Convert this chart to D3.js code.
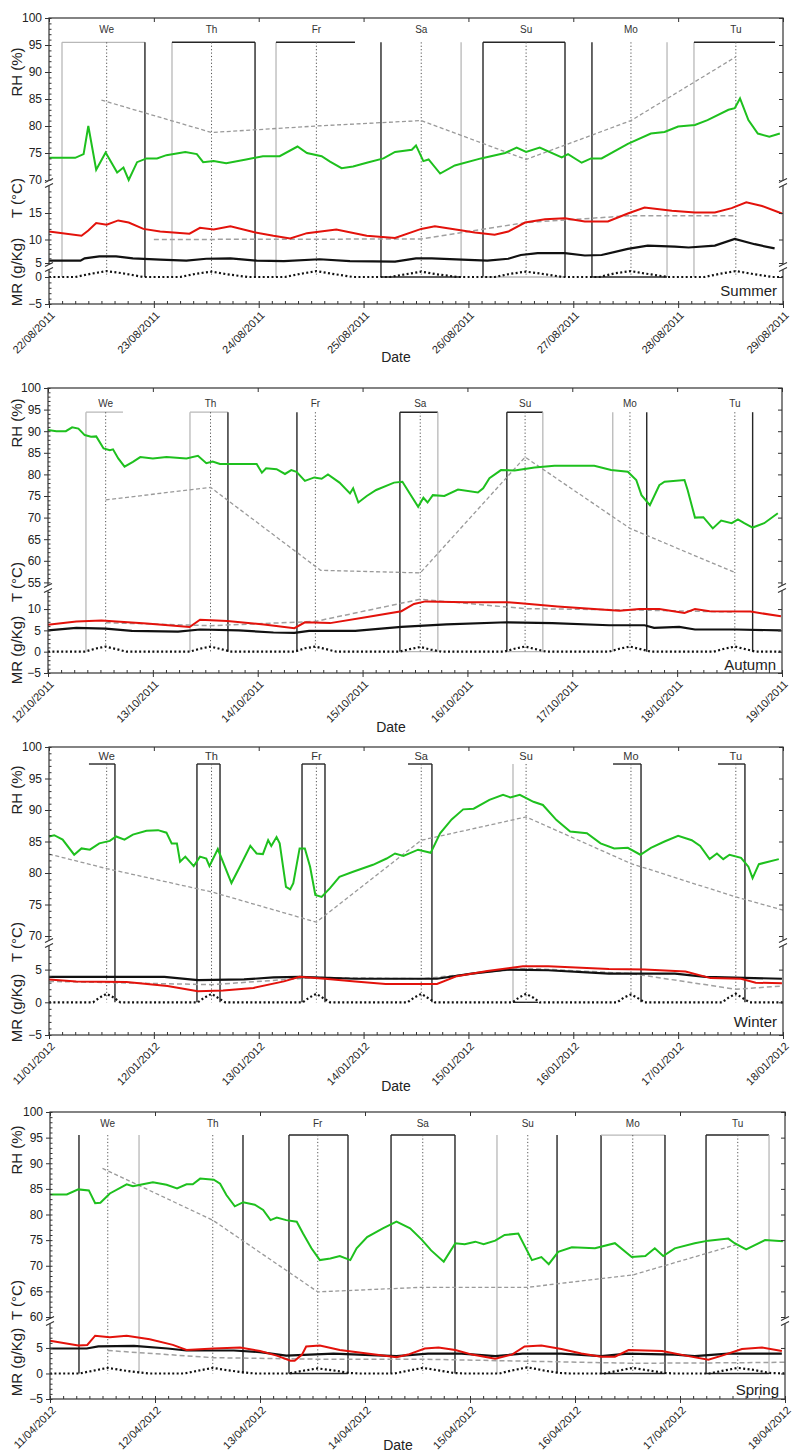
<!DOCTYPE html>
<html><head><meta charset="utf-8">
<script src="https://cdn.jsdelivr.net/npm/d3@7"></script>
<style>body{margin:0;background:#fff}svg{display:block;font-family:"Liberation Sans",Arial,sans-serif}</style>
</head><body><svg id="c" width="795" height="1453"></svg>
<script>
// ---------------- DATA ----------------
const dayLabels = ["We","Th","Fr","Sa","Su","Mo","Tu"];
const noonDays = [0.55,1.55,2.55,3.55,4.55,5.55,6.55];
const summerDates = ["22/08/2011","23/08/2011","24/08/2011","25/08/2011","26/08/2011","27/08/2011","28/08/2011","29/08/2011"];
const autumnDates = ["12/10/2011","13/10/2011","14/10/2011","15/10/2011","16/10/2011","17/10/2011","18/10/2011","19/10/2011"];
const winterDates = ["11/01/2012","12/01/2012","13/01/2012","14/01/2012","15/01/2012","16/01/2012","17/01/2012","18/01/2012"];
const springDates = ["11/04/2012","12/04/2012","13/04/2012","14/04/2012","15/04/2012","16/04/2012","17/04/2012","18/04/2012"];

// [day offset, value]
const summerRH = [[0,74.1],[0.25,74.1],[0.33,74.8],[0.375,80],[0.45,71.9],[0.54,75.1],[0.65,71.4],[0.71,72.3],[0.76,70],[0.84,73.3],[0.93,74],[1.03,74],[1.12,74.6],[1.3,75.2],[1.41,74.8],[1.47,73.3],[1.57,73.5],[1.69,73.1],[1.88,73.8],[2.04,74.4],[2.2,74.4],[2.37,76.2],[2.46,75],[2.6,74.4],[2.68,73.4],[2.79,72.2],[2.9,72.5],[3.03,73.2],[3.19,74],[3.3,75.2],[3.46,75.6],[3.5,76.4],[3.57,73.5],[3.62,73.8],[3.73,71.2],[3.87,72.7],[4.12,74],[4.35,75],[4.46,76],[4.55,75.2],[4.68,76],[4.89,74.2],[4.95,74.8],[5.08,73.2],[5.17,74],[5.27,74],[5.52,76.7],[5.74,78.6],[5.87,78.9],[6.0,79.9],[6.16,80.2],[6.28,81.1],[6.48,83],[6.54,83.3],[6.59,85.1],[6.67,81.1],[6.76,78.6],[6.87,78],[6.97,78.6]];
const summerT = [[0,11.5],[0.31,10.7],[0.375,11.7],[0.45,13.1],[0.55,12.8],[0.66,13.6],[0.76,13.2],[0.9,12],[1.06,11.5],[1.34,11.1],[1.44,12.2],[1.57,11.9],[1.73,12.5],[1.95,11.4],[2.14,10.7],[2.3,10.2],[2.46,11.2],[2.74,11.9],[3.03,10.7],[3.3,10.3],[3.55,12],[3.68,12.5],[3.94,11.7],[4.06,11.3],[4.25,10.9],[4.38,11.5],[4.54,13.2],[4.73,13.8],[4.92,14],[5.11,13.4],[5.33,13.4],[5.52,14.9],[5.68,16],[5.94,15.4],[6.16,15.1],[6.35,15.1],[6.51,15.9],[6.65,17],[6.8,16.3],[6.99,14.9]];
const summerMR = [[0,5.5],[0.3,5.5],[0.34,6],[0.48,6.4],[0.64,6.4],[0.8,6],[1.06,5.7],[1.31,5.5],[1.5,5.9],[1.73,6],[1.98,5.5],[2.24,5.4],[2.58,5.8],[2.87,5.4],[3.3,5.3],[3.5,6],[3.65,6],[3.94,5.7],[4.18,5.5],[4.38,5.9],[4.5,6.7],[4.66,7.1],[4.92,7.1],[5.11,6.6],[5.27,6.7],[5.52,8],[5.71,8.7],[5.97,8.5],[6.1,8.3],[6.35,8.7],[6.54,10.1],[6.73,9],[6.92,8.1]];
const summerSun = [[0,0],[0.25,0],[0.4,0.6],[0.55,1.1],[0.7,0.7],[0.9,0],[1.25,0],[1.4,0.6],[1.55,1.0],[1.7,0.5],[1.9,0],[2.25,0],[2.4,0.6],[2.55,1.1],[2.7,0.6],[2.9,0],[3.25,0],[3.4,0.5],[3.55,1.0],[3.7,0.5],[3.9,0],[4.25,0],[4.4,0.6],[4.55,1.0],[4.7,0.6],[4.9,0],[5.25,0],[5.4,0.7],[5.55,1.1],[5.7,0.6],[5.9,0],[6.25,0],[6.4,0.6],[6.55,1.1],[6.7,0.6],[6.9,0],[7,0]];
const summerRHDaily = [[0.5,84.8],[1.55,78.8],[2.55,80],[3.55,81],[4.55,73.8],[5.55,81],[6.55,92.8]];
const summerTDaily = [[1.0,10],[3.55,10.1],[4.55,13.2],[5.55,14.5],[6.55,14.5]];
const summerBoxes = [[0.124,0.915],[1.173,1.965],[2.165,2.918],[3.166,3.93],[4.139,4.921],[5.178,5.894],[6.151,6.924]];
const summerBoxEdges = ["ggk-","gkk-","gk--","k-gk","kkkg","k-gk","gk--"];

const autumnRH = [[0,90.3],[0.08,90],[0.17,90],[0.23,90.9],[0.29,90.6],[0.35,89.1],[0.41,88.7],[0.46,88.8],[0.53,86],[0.59,85.6],[0.62,85.8],[0.67,83.7],[0.73,81.8],[0.81,82.9],[0.88,84],[1.0,83.7],[1.13,84],[1.32,83.7],[1.43,84.3],[1.51,82.6],[1.57,83],[1.64,82.4],[1.76,82.4],[1.99,82.4],[2.04,80.4],[2.08,81.4],[2.18,81.2],[2.26,80.1],[2.32,81],[2.37,80.6],[2.45,78.5],[2.54,79.3],[2.61,79],[2.67,80],[2.78,78.1],[2.88,75.6],[2.91,76.8],[2.96,73.5],[3.04,75],[3.13,76.4],[3.3,78.1],[3.38,78.3],[3.45,75.6],[3.53,72.5],[3.58,74.6],[3.62,73.5],[3.67,75.2],[3.78,75],[3.91,76.5],[4.1,75.8],[4.15,76.8],[4.21,79.1],[4.32,81],[4.45,80.9],[4.64,81.6],[4.83,82],[5.21,82],[5.37,81],[5.53,80.6],[5.61,78.7],[5.66,75.2],[5.74,72.9],[5.83,77.5],[5.88,78.3],[6.07,78.7],[6.1,76.4],[6.17,70],[6.25,70.1],[6.34,67.5],[6.42,69.3],[6.52,68.7],[6.58,69.6],[6.64,68.7],[6.72,67.7],[6.83,68.7],[6.96,71]];
const autumnT = [[0,6.3],[0.27,7.1],[0.51,7.3],[0.94,6.6],[1.35,5.8],[1.45,7.5],[1.71,7.2],[2.06,6.4],[2.35,5.5],[2.45,6.9],[2.69,6.7],[3.03,8.1],[3.37,9.5],[3.49,11.2],[3.6,11.8],[3.99,11.6],[4.38,11.6],[4.48,11.4],[4.86,10.6],[5.45,9.6],[5.64,10],[5.83,10],[6.07,9.1],[6.17,10],[6.31,9.5],[6.7,9.4],[6.99,8.3]];
const autumnMR = [[0,5],[0.27,5.6],[0.55,5.4],[0.8,4.9],[1.24,4.7],[1.45,5.2],[1.82,5],[2.15,4.5],[2.35,4.4],[2.49,4.9],[2.93,4.9],[3.37,5.8],[3.8,6.4],[4.38,6.9],[4.81,6.7],[5.35,6.2],[5.69,6.2],[5.78,5.6],[6.02,5.8],[6.17,5.2],[6.56,5.2],[6.99,5]];
const autumnSun = [[0,0],[0.35,0],[0.45,0.7],[0.55,1.2],[0.65,0.6],[0.75,0],[1.35,0],[1.45,0.7],[1.55,1.2],[1.65,0.6],[1.75,0],[2.35,0],[2.45,0.8],[2.55,1.2],[2.65,0.6],[2.75,0],[3.35,0],[3.45,0.6],[3.55,1.1],[3.65,0.5],[3.75,0],[4.35,0],[4.45,0.7],[4.55,1.2],[4.65,0.6],[4.75,0],[5.35,0],[5.45,0.7],[5.55,1.2],[5.65,0.6],[5.75,0],[6.35,0],[6.45,0.7],[6.55,1.2],[6.65,0.6],[6.75,0],[7,0]];
const autumnRHDaily = [[0.55,74.1],[1.55,77],[2.6,57.8],[3.55,57.2],[4.55,84],[5.55,67.5],[6.55,57.3]];
const autumnTDaily = [[0.55,6.8],[1.55,6.1],[2.55,7.1],[3.55,12.3],[4.55,10.1],[5.55,9.8],[6.55,9.3]];
const autumnBoxes = [[0.362,0.715],[1.354,1.716],[2.374,2.7],[3.356,3.718],[4.376,4.719],[5.386,5.71],[6.4,6.72]];
const autumnBoxEdges = ["gg--","ggk-","k---","kkgg","kkgg","g-k-","--k-"];

const winterRH = [[0,85.8],[0.05,86],[0.13,85.3],[0.24,82.9],[0.31,83.9],[0.39,83.7],[0.48,84.7],[0.58,85.1],[0.64,85.8],[0.72,85.3],[0.8,86.1],[0.93,86.7],[1.04,86.8],[1.12,86.4],[1.17,84.7],[1.22,84.7],[1.25,81.8],[1.3,82.6],[1.38,81.1],[1.44,82.6],[1.5,82.3],[1.53,81.1],[1.61,83.8],[1.74,78.4],[1.82,81],[1.92,84.3],[1.98,83.1],[2.04,83],[2.09,85.2],[2.12,84.3],[2.17,85.7],[2.2,84.7],[2.26,77.8],[2.3,77.4],[2.33,78.4],[2.39,83.9],[2.44,83.9],[2.49,81],[2.54,76.5],[2.6,76.2],[2.68,77.6],[2.77,79.4],[2.9,80.2],[3.09,81.3],[3.22,82.3],[3.3,83.1],[3.38,82.7],[3.52,83.7],[3.64,83.2],[3.73,86.3],[3.84,88.5],[3.95,90.1],[4.05,90.2],[4.2,91.6],[4.33,92.4],[4.4,92],[4.49,92.4],[4.62,91.3],[4.71,90.8],[4.84,88.4],[4.97,86.6],[5.13,86.3],[5.26,84.7],[5.39,83.9],[5.52,84],[5.64,82.9],[5.74,84],[5.87,85],[6.0,85.9],[6.13,85.2],[6.21,84.3],[6.3,82.2],[6.37,83.1],[6.43,82.2],[6.49,82.9],[6.6,82.4],[6.67,81],[6.71,79.2],[6.77,81.4],[6.96,82.2]];
const winterT = [[0,3.5],[0.26,3.2],[0.74,3.1],[1.13,2.5],[1.42,1.7],[1.66,1.8],[1.95,2.2],[2.24,3.2],[2.39,3.9],[2.63,3.6],[2.92,3.2],[3.21,2.8],[3.7,2.8],[3.89,4],[4.18,4.8],[4.52,5.5],[4.76,5.5],[5.34,5.1],[5.68,5],[6.07,4.7],[6.31,3.7],[6.6,3.6],[6.74,3],[6.99,2.9]];
const winterMR = [[0,3.9],[1.1,3.9],[1.42,3.4],[1.86,3.5],[2.14,3.8],[2.39,3.9],[2.92,3.6],[3.7,3.6],[4.03,4.4],[4.37,5],[4.76,4.9],[5.34,4.4],[5.97,4.4],[6.26,3.9],[6.99,3.6]];
const winterSun = [[0,0],[0.42,0],[0.48,0.7],[0.55,1.3],[0.62,0.7],[0.68,0],[1.42,0],[1.48,0.7],[1.55,1.3],[1.62,0.6],[1.68,0],[2.42,0],[2.48,0.7],[2.55,1.3],[2.62,0.6],[2.68,0],[3.42,0],[3.48,0.7],[3.55,1.3],[3.62,0.6],[3.68,0],[4.42,0],[4.48,0.7],[4.55,1.3],[4.62,0.7],[4.68,0],[5.42,0],[5.48,0.7],[5.55,1.2],[5.62,0.6],[5.68,0],[6.42,0],[6.48,0.7],[6.55,1.3],[6.62,0.6],[6.68,0],[7,0]];
const winterRHDaily = [[0,83],[0.55,80.7],[1.55,77],[2.55,72.2],[3.55,85.2],[4.55,88.9],[5.55,81.5],[6.55,76.2],[7,74.1]];
const winterTDaily = [[0,3.2],[1.55,2.7],[2.55,3.8],[3.55,3.6],[4.55,5.2],[5.55,4.4],[6.55,2],[7,2.5]];
const winterBoxes = [[0.381,0.629],[1.411,1.631],[2.413,2.632],[3.424,3.652],[4.425,4.663],[5.379,5.646],[6.38,6.637]];
const winterBoxEdges = ["-kk-","kkk-","kkk-","-kk-","g--k","-kk-","-kk-"];

const springRH = [[0,83.9],[0.16,83.9],[0.27,84.9],[0.37,84.7],[0.43,82.2],[0.48,82.3],[0.57,84.1],[0.73,85.9],[0.79,85.5],[0.86,85.8],[0.98,86.3],[1.11,85.8],[1.21,85.1],[1.3,85.9],[1.36,85.9],[1.43,87],[1.56,86.8],[1.62,86],[1.68,83.8],[1.76,81.6],[1.84,82.4],[1.95,81.9],[2.03,80.9],[2.1,78.9],[2.16,79.4],[2.25,78.9],[2.35,78.6],[2.41,76.3],[2.49,73.4],[2.57,71.1],[2.67,71.4],[2.76,71.9],[2.86,71.1],[2.92,73.4],[3.02,75.6],[3.17,77.3],[3.3,78.6],[3.43,77.3],[3.54,75.1],[3.63,73],[3.75,70.8],[3.86,74.4],[3.95,74.2],[4.05,74.7],[4.13,74.2],[4.24,74.9],[4.33,76],[4.46,76.3],[4.59,71.1],[4.68,71.7],[4.75,70.3],[4.84,72.7],[4.97,73.6],[5.19,73.4],[5.38,74.4],[5.54,71.7],[5.67,71.9],[5.76,73.4],[5.84,71.9],[5.95,73.4],[6.14,74.4],[6.27,74.9],[6.46,75.3],[6.52,74.4],[6.63,73.2],[6.81,75],[6.98,74.8]];
const springT = [[0,6.4],[0.27,5.5],[0.355,5.6],[0.43,7.4],[0.57,7.1],[0.73,7.4],[0.95,6.7],[1.17,5.6],[1.3,4.6],[1.56,4.9],[1.81,5.1],[2.0,4.4],[2.16,3.5],[2.29,2.5],[2.33,2.5],[2.4,3.7],[2.44,5.3],[2.57,5.5],[2.76,4.6],[3.02,3.9],[3.3,3.2],[3.41,3.7],[3.57,4.9],[3.7,5.1],[3.86,4.6],[4.02,3.7],[4.24,2.9],[4.4,3.7],[4.52,5.3],[4.68,5.5],[4.87,4.8],[5.06,3.9],[5.25,3.3],[5.38,3.3],[5.51,4.6],[5.67,4.5],[5.83,4.4],[6.08,3.4],[6.27,2.7],[6.4,3.5],[6.59,4.8],[6.78,5.1],[6.97,4.4]];
const springMR = [[0,4.9],[0.35,4.9],[0.46,5.3],[0.8,5.4],[1.12,4.9],[1.3,4.5],[1.75,4.5],[2.0,4.2],[2.25,3.5],[2.7,3.9],[3.3,3.4],[3.6,3.9],[3.92,3.9],[4.24,3.4],[4.5,3.9],[4.87,3.9],[5.25,3.4],[5.5,3.9],[5.95,3.7],[6.14,3.4],[6.46,3.9],[6.97,3.9]];
const springSun = [[0,0],[0.28,0],[0.4,0.5],[0.55,1.1],[0.7,0.6],[0.85,0.2],[0.95,0],[1.28,0],[1.4,0.5],[1.55,1.1],[1.7,0.6],[1.85,0.2],[1.95,0],[2.28,0],[2.4,0.5],[2.55,1.0],[2.7,0.6],[2.85,0.1],[2.95,0],[3.28,0],[3.4,0.5],[3.55,1.1],[3.7,0.6],[3.85,0.1],[3.95,0],[4.28,0],[4.4,0.6],[4.55,1.2],[4.7,0.6],[4.85,0.1],[4.95,0],[5.28,0],[5.4,0.5],[5.55,1.1],[5.7,0.6],[5.85,0.1],[5.95,0],[6.28,0],[6.4,0.5],[6.55,1.1],[6.7,0.7],[6.85,0.1],[7,0]];
const springRHDaily = [[0.5,89],[1.55,78.9],[2.55,64.9],[3.55,65.8],[4.55,65.8],[5.55,68.2],[6.55,74.2]];
const springTDaily = [[0.55,4.5],[1.55,3.1],[2.55,2.8],[3.55,2.8],[4.55,2.4],[5.55,2.0],[6.55,2.1],[7,2.2]];
const springBoxes = [[0.276,0.848],[1.5,1.838],[2.276,2.838],[3.248,3.857],[4.257,4.829],[5.248,5.857],[6.248,6.848]];
const springBoxEdges = ["k-g-","--k-","kkkk","kkk-","g-k-","kgkk","kkgk"];

const seasonNames = ["Summer","Autumn","Winter","Spring"];

// ---------------- LAYOUT ----------------
const layout = [
 {left:49,right:783,top:18,bottom:304,rhDom:[70,100],rhRng:[180,18],
  lowDom:[-5,0,1.6,4.4,5,10,15,19.5],lowRng:[304,277,268.4,266,263,239.5,213,188.7],
  lowTicks:[-5,0,5,10,15],minorSkip:[1.6,4.4],breaks:[183,267],boxTop:95.5,dayY:33,dayFs:10,
  rhLabY:72,tLabY:198,mrLabY:272,seasonY:296,dateY:362,dateX:396},
 {left:48,right:782,top:388,bottom:673,rhDom:[55,100],rhRng:[582.4,388],
  lowDom:[-5,14],lowRng:[673,592],lowTicks:[-5,0,5,10],minorSkip:null,breaks:[588],boxTop:94.4,dayY:407,dayFs:10,
  rhLabY:423,tLabY:582,mrLabY:650,seasonY:670,dateY:732,dateX:391},
 {left:49,right:783,top:747,bottom:1035,rhDom:[70,100],rhRng:[936,747],
  lowDom:[-5,8],lowRng:[1035,950],lowTicks:[-5,0,5],minorSkip:null,breaks:[943],boxTop:97.3,dayY:760,dayFs:11,
  rhLabY:790,tLabY:942,mrLabY:1008,seasonY:1027,dateY:1091,dateX:396},
 {left:50,right:785,top:1112,bottom:1399,rhDom:[60,100],rhRng:[1317,1112],
  lowDom:[-5,9.5],lowRng:[1399,1325],lowTicks:[-5,0,5],minorSkip:null,breaks:[1321],boxTop:95.5,dayY:1127,dayFs:10,
  rhLabY:1150,tLabY:1300,mrLabY:1362,seasonY:1395,dateY:1450,dateX:398}
];

const panelData = [
 {dates:summerDates,rh:summerRH,t:summerT,mr:summerMR,sun:summerSun,rhd:summerRHDaily,td:summerTDaily,boxes:summerBoxes,edges:summerBoxEdges},
 {dates:autumnDates,rh:autumnRH,t:autumnT,mr:autumnMR,sun:autumnSun,rhd:autumnRHDaily,td:autumnTDaily,boxes:autumnBoxes,edges:autumnBoxEdges},
 {dates:winterDates,rh:winterRH,t:winterT,mr:winterMR,sun:winterSun,rhd:winterRHDaily,td:winterTDaily,boxes:winterBoxes,edges:winterBoxEdges},
 {dates:springDates,rh:springRH,t:springT,mr:springMR,sun:springSun,rhd:springRHDaily,td:springTDaily,boxes:springBoxes,edges:springBoxEdges}
];

const svg = d3.select("#c");

function drawPanel(L, D, season){
  const g = svg.append("g");
  const x = d3.scaleLinear().domain([0,7]).range([L.left, L.right]);
  const yRH = d3.scaleLinear().domain(L.rhDom).range(L.rhRng);
  const yLo = d3.scaleLinear().domain(L.lowDom).range(L.lowRng);
  const edgeCol = c => c==='k' ? '#262626' : '#b8b8b8';

  D.boxes.forEach((b,i)=>{
    const e = D.edges[i], x0=x(b[0]), x1=x(b[1]), yT=yRH(L.boxTop), yB=yLo(0);
    const segs = [[x0,yT,x0,yB,e[0]],[x0,yT,x1,yT,e[1]],[x1,yT,x1,yB,e[2]],[x0,yB,x1,yB,e[3]]];
    segs.forEach(s=>{ if(s[4]!=='-') g.append("line").attr("x1",s[0]).attr("y1",s[1]).attr("x2",s[2]).attr("y2",s[3])
      .attr("stroke",edgeCol(s[4])).attr("stroke-width",s[4]==='k'?1.4:1.3); });
  });
  noonDays.forEach(d=>{
    g.append("line").attr("x1",x(d)).attr("x2",x(d)).attr("y1",yRH(L.boxTop)).attr("y2",yLo(0))
     .attr("stroke","#555").attr("stroke-width",1).attr("stroke-dasharray","1.2,2.2");
  });
  g.selectAll(".dl").data(dayLabels).enter().append("text")
   .attr("x",(d,i)=>x(noonDays[i])).attr("y",L.dayY).attr("text-anchor","middle")
   .attr("font-size",L.dayFs).attr("fill","#333").text(d=>d);

  const lineRH = d3.line().x(d=>x(d[0])).y(d=>yRH(d[1]));
  const lineLo = d3.line().x(d=>x(d[0])).y(d=>yLo(d[1]));
  g.append("path").attr("d",lineRH(D.rhd)).attr("fill","none").attr("stroke","#9a9a9a").attr("stroke-width",1.3).attr("stroke-dasharray","4,2.5");
  g.append("path").attr("d",lineLo(D.td)).attr("fill","none").attr("stroke","#a0a0a0").attr("stroke-width",1.5).attr("stroke-dasharray","5,3");
  g.append("path").attr("d",lineLo(D.sun)).attr("fill","none").attr("stroke","#111").attr("stroke-width",2.2).attr("stroke-dasharray","2,2.4");
  g.append("path").attr("d",lineLo(D.mr)).attr("fill","none").attr("stroke","#111").attr("stroke-width",2.2);
  g.append("path").attr("d",lineLo(D.t)).attr("fill","none").attr("stroke","#e3120b").attr("stroke-width",2);
  g.append("path").attr("d",lineRH(D.rh)).attr("fill","none").attr("stroke","#1ec01e").attr("stroke-width",2);

  g.append("rect").attr("x",L.left).attr("y",L.top).attr("width",L.right-L.left).attr("height",L.bottom-L.top)
   .attr("fill","none").attr("stroke","#333").attr("stroke-width",1.2);

  const rhTicks = d3.range(L.rhDom[0], 100.1, 5);
  const gRH = g.append("g").attr("transform",`translate(${L.left},0)`).call(d3.axisLeft(yRH).tickValues(rhTicks).tickSize(4).tickPadding(3).tickFormat(d3.format("d")));
  g.append("g").attr("transform",`translate(${L.left},0)`).call(d3.axisLeft(yRH).tickValues(d3.range(L.rhDom[0], 100.1, 1)).tickSize(-2.5).tickFormat(""));
  const loMax = L.lowDom[L.lowDom.length-1];
  const gLo = g.append("g").attr("transform",`translate(${L.left},0)`).call(d3.axisLeft(yLo).tickValues(L.lowTicks).tickSize(4).tickPadding(3).tickFormat(d3.format("d")));
  let minorLo = d3.range(-5, Math.floor(loMax)+1, 1);
  if(L.minorSkip) minorLo = minorLo.filter(v=> v<=L.minorSkip[0] || v>=L.minorSkip[1]);
  g.append("g").attr("transform",`translate(${L.left},0)`).call(d3.axisLeft(yLo).tickValues(minorLo).tickSize(-2.5).tickFormat(""));
  g.append("g").attr("transform",`translate(${L.right},0)`).call(d3.axisLeft(yRH).tickValues(rhTicks).tickSize(4).tickFormat(""));
  g.append("g").attr("transform",`translate(${L.right},0)`).call(d3.axisLeft(yLo).tickValues(L.lowTicks).tickSize(4).tickFormat(""));
  g.append("g").attr("transform",`translate(0,${L.top})`).call(d3.axisTop(x).tickValues(d3.range(0,8)).tickSize(-4).tickFormat(""));
  const gx = g.append("g").attr("transform",`translate(0,${L.bottom})`).call(d3.axisBottom(x).tickValues(d3.range(0,8)).tickSize(4).tickFormat((d,i)=>D.dates[i]));
  g.append("g").attr("transform",`translate(0,${L.bottom})`).call(d3.axisBottom(x).tickValues(d3.range(0,7.01,0.125)).tickSize(-3).tickFormat(""));
  gx.selectAll("text").attr("text-anchor","end").attr("dy",0).attr("y",0)
    .attr("transform","translate(6,12) rotate(-45)").attr("font-size",11);

  g.selectAll(".domain").remove();
  g.selectAll(".tick line").attr("stroke","#333");
  g.selectAll(".tick text").attr("fill","#222").style("font-family","Liberation Sans, Arial, sans-serif");
  gRH.selectAll("text").attr("font-size",12);
  gLo.selectAll("text").attr("font-size",12);

  L.breaks.forEach(by=>{
    [L.left, L.right].forEach(bx=>{
      g.append("rect").attr("x",bx-3).attr("y",by-2.5).attr("width",6).attr("height",5).attr("fill","#fff");
      g.append("line").attr("x1",bx-4).attr("y1",by-0.5).attr("x2",bx+4).attr("y2",by-4.5).attr("stroke","#333").attr("stroke-width",1.2);
      g.append("line").attr("x1",bx-4).attr("y1",by+4.5).attr("x2",bx+4).attr("y2",by+0.5).attr("stroke","#333").attr("stroke-width",1.2);
    });
  });

  const lab = (txt,y)=> g.append("text").attr("transform",`translate(22,${y}) rotate(-90)`).attr("text-anchor","middle")
     .attr("font-size",15).attr("fill","#222").text(txt);
  lab("RH (%)", L.rhLabY); lab("T (°C)", L.tLabY); lab("MR (g/Kg)", L.mrLabY);
  g.append("text").attr("x",L.right-6).attr("y",L.seasonY).attr("text-anchor","end").attr("font-size",15).attr("fill","#222").text(season);
  g.append("text").attr("x",L.dateX).attr("y",L.dateY).attr("text-anchor","middle").attr("font-size",14).attr("fill","#222").text("Date");
}

layout.forEach((L,i)=>drawPanel(L, panelData[i], seasonNames[i]));
</script></body></html>
